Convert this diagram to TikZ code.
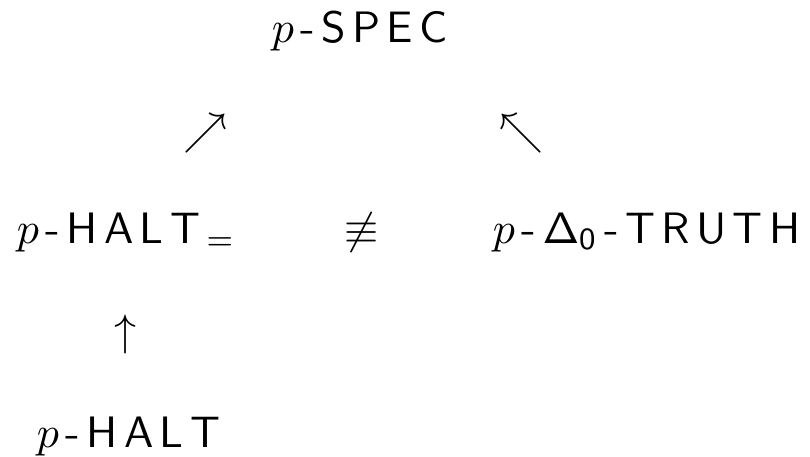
\documentclass[tikz,border=0pt]{standalone}
\usepackage{amssymb}
\makeatletter
\newcommand\lsgap{\kern1.45pt}
\newcommand\lspc[1]{\@tfor\lsch:=#1\do{\lsch\lsgap}}
\makeatother
\begin{document}
\begin{tikzpicture}[x=0.22727pt,y=-0.22727pt,
  lbl/.style={inner sep=0pt,outer sep=0pt,anchor=base west},
  sym/.style={inner sep=0pt,outer sep=0pt,anchor=base}]
\useasboundingbox (0,0) rectangle (810,456);
\node[lbl] (spec) at (272,42) {$p$\lsgap\textsf{\lspc{-SPEC}}};
\node[sym] (ne) at (206,144) {$\nearrow$};
\node[sym] (nw) at (522,144) {$\nwarrow$};
\node[lbl] (halteq) at (17,243) {$p$\lsgap\textsf{\lspc{-HALT}}$_=$};
\node[sym] (neq) at (362,243) {$\not\equiv$};
\node[lbl] (truth) at (493,243) {$p$\lsgap\textsf{-}\lsgap$\mathsf{\Delta}_{\mathsf{0}}$\lsgap\textsf{\lspc{-TRUTH}}};
\node[sym] (up) at (125,345) {$\uparrow$};
\node[lbl] (halt) at (37,447) {$p$\lsgap\textsf{\lspc{-HALT}}};
\end{tikzpicture}
\end{document}
